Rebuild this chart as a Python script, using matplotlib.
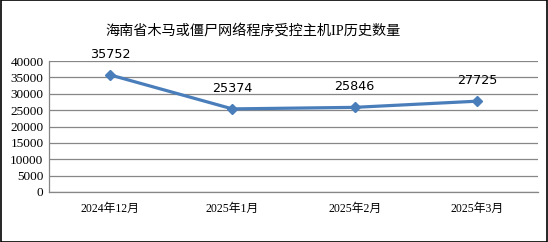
import matplotlib
matplotlib.use("Agg")
import matplotlib.pyplot as plt
from matplotlib.patches import Rectangle

categories = ["2024年12月", "2025年1月", "2025年2月", "2025年3月"]
values = [35752, 25374, 25846, 27725]
yticks = [0, 5000, 10000, 15000, 20000, 25000, 30000, 35000, 40000]
title = "海南省木马或僵尸网络程序受控主机IP历史数量"

fig = plt.figure(figsize=(5.48, 2.42), dpi=100)
ax = fig.add_axes([49/548, 1-192/242, (538-49)/548, (192-61)/242])

x = list(range(len(categories)))
ax.plot(x, values, color="#4A7EBB", lw=2.3, marker="D", ms=5.5, zorder=3)
ax.set_xlim(-0.5, len(categories)-0.5)
ax.set_ylim(0, 40000)
ax.set_yticks(yticks)
ax.set_yticklabels([str(v) for v in yticks], family="Liberation Serif", fontsize=9.5)
ax.set_xticks(x)
ax.set_xticklabels(categories, family=["Liberation Serif", "Noto Sans CJK SC"], fontsize=8.5)
ax.tick_params(length=0, pad=4)
ax.tick_params(axis="x", pad=8)
ax.grid(axis="y", color="#868686", lw=0.9)
ax.set_axisbelow(True)
for s in ["top", "right"]:
    ax.spines[s].set_visible(False)
for s in ["left", "bottom"]:
    ax.spines[s].set_color("#868686")
    ax.spines[s].set_linewidth(0.9)

for i, v in enumerate(values):
    ax.annotate(str(v), (i, v), xytext=(0, 10), textcoords="offset points",
                ha="center", va="bottom", fontsize=9.2, family="DejaVu Sans")

fig.text(253/548, 1-31/242, title, ha="center", va="center", fontsize=10.2,
         family=["Liberation Serif", "Noto Sans CJK SC"])

fig.patches.append(Rectangle((0.001, 0.002), 0.997, 0.996, transform=fig.transFigure,
                             fill=False, edgecolor="black", lw=1.2))
fig.savefig("out.png", dpi=100)
